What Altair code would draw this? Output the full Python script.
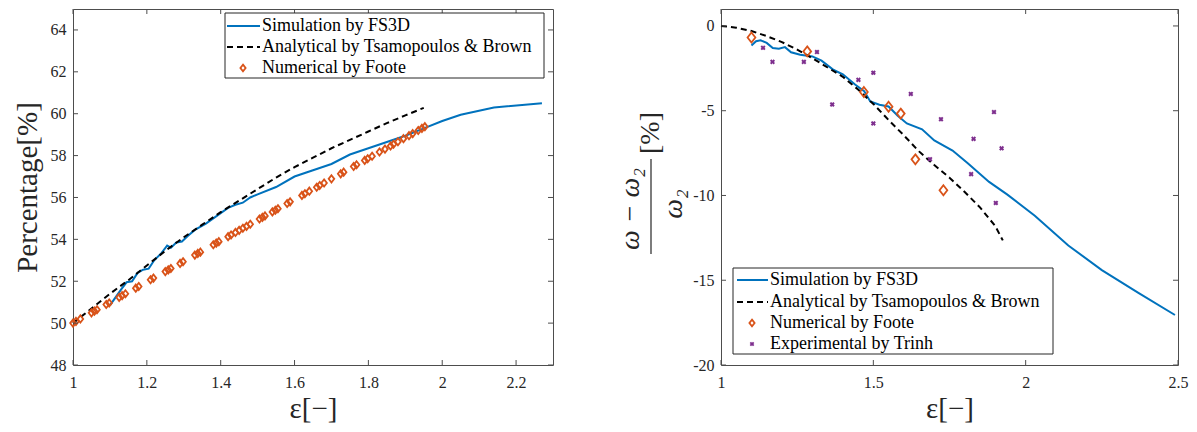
import altair as alt
import pandas as pd

# ---------------- left panel data ----------------
sim_left_x = [1.10, 1.11, 1.13, 1.145, 1.16, 1.175, 1.19, 1.205, 1.22, 1.24, 1.255, 1.265, 1.28, 1.295,
              1.31, 1.33, 1.36, 1.38, 1.40, 1.42, 1.44, 1.46, 1.48, 1.50, 1.55, 1.60, 1.65, 1.70, 1.75,
              1.80, 1.85, 1.90, 1.95, 2.00, 2.05, 2.14, 2.27]
sim_left_y = [50.85, 51.1, 51.6, 51.95, 52.0, 52.4, 52.55, 52.6, 53.0, 53.35, 53.7, 53.6, 53.85, 53.9,
              54.15, 54.45, 54.75, 55.0, 55.25, 55.5, 55.65, 55.75, 56.0, 56.15, 56.5, 57.0, 57.3, 57.6,
              58.05, 58.35, 58.65, 58.95, 59.3, 59.65, 59.95, 60.3, 60.5]

ana_left_x = [1.00, 1.05, 1.10, 1.15, 1.20, 1.25, 1.30, 1.35, 1.40, 1.45, 1.50, 1.55, 1.60, 1.65,
              1.70, 1.75, 1.80, 1.85, 1.90, 1.95]
ana_left_y = [50.0, 50.7, 51.4, 52.05, 52.75, 53.45, 54.1, 54.7, 55.3, 55.85, 56.4, 56.95, 57.45,
              57.9, 58.35, 58.75, 59.15, 59.55, 59.92, 60.28]

foote_left_x = [1.000, 1.008, 1.020, 1.050, 1.058, 1.065, 1.090, 1.098, 1.125, 1.133, 1.142, 1.170,
                1.178, 1.210, 1.218, 1.250, 1.258, 1.265, 1.290, 1.298, 1.330, 1.338, 1.345, 1.380,
                1.388, 1.395, 1.420, 1.428, 1.440, 1.450, 1.460, 1.470, 1.480, 1.505, 1.513, 1.520,
                1.540, 1.548, 1.555, 1.580, 1.588, 1.620, 1.628, 1.640, 1.660, 1.668, 1.680, 1.700,
                1.725, 1.733, 1.760, 1.768, 1.790, 1.798, 1.810, 1.830, 1.845, 1.860, 1.868, 1.880,
                1.895, 1.910, 1.920, 1.935, 1.945, 1.953]
foote_left_y = [50.00, 50.08, 50.20, 50.49, 50.57, 50.64, 50.89, 50.96, 51.23, 51.31, 51.40, 51.67,
                51.75, 52.07, 52.15, 52.46, 52.54, 52.61, 52.85, 52.93, 53.25, 53.33, 53.39, 53.74,
                53.82, 53.89, 54.13, 54.21, 54.33, 54.43, 54.53, 54.62, 54.72, 54.97, 55.05, 55.12,
                55.31, 55.39, 55.46, 55.71, 55.79, 56.10, 56.18, 56.30, 56.49, 56.57, 56.69, 56.89,
                57.13, 57.21, 57.48, 57.56, 57.77, 57.85, 57.97, 58.17, 58.31, 58.46, 58.54, 58.66,
                58.81, 58.95, 59.05, 59.20, 59.30, 59.38]

xticks_left = [1, 1.2, 1.4, 1.6, 1.8, 2, 2.2]
yticks_left = [48, 50, 52, 54, 56, 58, 60, 62, 64]

# ---------------- right panel data ----------------
sim_right_x = [1.10, 1.115, 1.13, 1.15, 1.17, 1.19, 1.21, 1.23, 1.26, 1.30, 1.33, 1.37, 1.40, 1.44,
               1.47, 1.49, 1.52, 1.55, 1.58, 1.61, 1.66, 1.70, 1.76, 1.81, 1.88, 1.94, 2.03, 2.14,
               2.25, 2.37, 2.49]
sim_right_y = [-1.15, -0.9, -0.85, -1.0, -1.3, -1.35, -1.25, -1.55, -1.7, -1.8, -2.05, -2.6, -2.85,
               -3.45, -3.85, -4.45, -4.65, -4.75, -5.3, -5.75, -6.1, -6.75, -7.35, -8.1, -9.2, -9.95,
               -11.2, -12.95, -14.4, -15.75, -17.05]

ana_right_x = [1.00, 1.05, 1.10, 1.15, 1.20, 1.25, 1.30, 1.35, 1.40, 1.45, 1.50, 1.55, 1.60, 1.65,
               1.70, 1.75, 1.80, 1.85, 1.90, 1.925]
ana_right_y = [0.0, -0.1, -0.3, -0.6, -0.95, -1.4, -1.9, -2.45, -3.0, -3.75, -4.6, -5.55, -6.45,
               -7.4, -8.2, -8.95, -9.8, -10.7, -11.8, -12.65]

foote_right_x = [1.10, 1.283, 1.469, 1.55, 1.59, 1.638, 1.73]
foote_right_y = [-0.68, -1.5, -3.9, -4.77, -5.17, -7.87, -9.69]

trinh_x = [1.138, 1.169, 1.272, 1.315, 1.365, 1.451, 1.50, 1.50, 1.623, 1.686, 1.722, 1.829, 1.821,
           1.896, 1.921, 1.902]
trinh_y = [-1.29, -2.12, -2.12, -1.54, -4.63, -3.18, -2.76, -5.75, -4.01, -7.86, -5.5, -6.66, -8.74,
           -5.08, -7.22, -10.44]

xticks_right = [1, 1.5, 2, 2.5]
yticks_right = [-20, -15, -10, -5, 0]

legend_labels = ["Simulation by FS3D", "Analytical by Tsamopoulos & Brown",
                 "Numerical by Foote", "Experimental by Trinh"]

# ---------------- styling ----------------
FONT = "Liberation Serif"
BLUE = "#0072BD"
ORANGE = "#D95319"
PURPLE = "#7E2F8E"
TXT = "#262626"
FRAME = "#4d4d4d"
DIAMOND = "M0,-1L0.78,0L0,1L-0.78,0Z"

W1, W2, H = 480, 457, 356
TICK = 5

one = pd.DataFrame({"k": [0]})


def xy(xs, ys):
    return pd.DataFrame({"x": xs, "y": ys})


def x_axis(vals):
    return alt.Axis(values=vals, labelExpr="datum.value + ''", domain=False, ticks=False, grid=False,
                    labelFlush=False, labelFont=FONT, labelFontSize=16, labelColor=TXT, labelPadding=9,
                    title="ε[−]", titleFont=FONT, titleFontSize=29, titleFontWeight="normal",
                    titleColor=TXT, titlePadding=4)


def y_axis(vals, title):
    kw = dict(values=vals, labelExpr="datum.value + ''", domain=False, ticks=False, grid=False,
              labelFlush=False, labelFont=FONT, labelFontSize=16, labelColor=TXT, labelPadding=7)
    if title:
        kw.update(title=title, titleFont=FONT, titleFontSize=29, titleFontWeight="normal",
                  titleColor=TXT, titlePadding=8)
    else:
        kw.update(title=None)
    return alt.Axis(**kw)


def tick_layers(xs_ticks, ys_ticks, xs, ys, W):
    tx = pd.DataFrame({"x": xs_ticks})
    ty = pd.DataFrame({"y": ys_ticks})
    base_x = alt.Chart(tx).mark_rule(color=FRAME, strokeWidth=1)
    base_y = alt.Chart(ty).mark_rule(color=FRAME, strokeWidth=1)
    return [
        base_x.encode(x=alt.X("x:Q", scale=xs), y=alt.value(H), y2=alt.value(H - TICK)),
        base_x.encode(x=alt.X("x:Q", scale=xs), y=alt.value(0), y2=alt.value(TICK)),
        base_y.encode(y=alt.Y("y:Q", scale=ys), x=alt.value(0), x2=alt.value(TICK)),
        base_y.encode(y=alt.Y("y:Q", scale=ys), x=alt.value(W), x2=alt.value(W - TICK)),
    ]


def legend_layers(box, rows, line_x, mark_x, text_x, n):
    layers = [alt.Chart(one).mark_rect(fill="white", stroke=TXT, strokeWidth=1).encode(
        x=alt.value(box[0]), x2=alt.value(box[1]), y=alt.value(box[2]), y2=alt.value(box[3]))]
    layers.append(alt.Chart(one).mark_rule(color=BLUE, strokeWidth=2).encode(
        x=alt.value(line_x[0]), x2=alt.value(line_x[1]), y=alt.value(rows[0])))
    layers.append(alt.Chart(one).mark_rule(color="black", strokeWidth=2, strokeDash=[6, 4]).encode(
        x=alt.value(line_x[0]), x2=alt.value(line_x[1]), y=alt.value(rows[1])))
    layers.append(alt.Chart(one).mark_point(shape=DIAMOND, color=ORANGE, filled=False, strokeWidth=1.8,
                                            size=45, opacity=1).encode(
        x=alt.value(mark_x), y=alt.value(rows[2])))
    if n == 4:
        layers.append(alt.Chart(one).mark_point(shape="cross", angle=45, color=PURPLE, filled=True,
                                                size=22, opacity=1).encode(
            x=alt.value(mark_x), y=alt.value(rows[3])))
    for i in range(n):
        layers.append(alt.Chart(one).mark_text(align="left", baseline="middle", font=FONT, fontSize=18,
                                               color="black").encode(
            x=alt.value(text_x), y=alt.value(rows[i]), text=alt.value(legend_labels[i])))
    return layers


# ---------------- left chart ----------------
xl = alt.Scale(domain=[1, 2.3], nice=False, zero=False)
yl = alt.Scale(domain=[48, 65], nice=False, zero=False)

sim_l = alt.Chart(xy(sim_left_x, sim_left_y)).mark_line(color=BLUE, strokeWidth=2).encode(
    x=alt.X("x:Q", scale=xl, axis=x_axis(xticks_left)),
    y=alt.Y("y:Q", scale=yl, axis=y_axis(yticks_left, "Percentage[%]")))
ana_l = alt.Chart(xy(ana_left_x, ana_left_y)).mark_line(color="black", strokeWidth=2,
                                                        strokeDash=[6, 4]).encode(
    x=alt.X("x:Q", scale=xl), y=alt.Y("y:Q", scale=yl))
foote_l = alt.Chart(xy(foote_left_x, foote_left_y)).mark_point(
    shape=DIAMOND, color=ORANGE, filled=False, strokeWidth=1.8, size=52, opacity=1).encode(
    x=alt.X("x:Q", scale=xl), y=alt.Y("y:Q", scale=yl))

left = alt.layer(
    sim_l, ana_l, foote_l,
    *tick_layers(xticks_left, yticks_left, xl, yl, W1),
    *legend_layers((152, 471, 4, 69), (17, 38, 59), (154, 187), 170, 189, 3),
).properties(width=W1, height=H)

# ---------------- right chart ----------------
xr = alt.Scale(domain=[1, 2.5], nice=False, zero=False)
yr = alt.Scale(domain=[-20, 1], nice=False, zero=False)

sim_r = alt.Chart(xy(sim_right_x, sim_right_y)).mark_line(color=BLUE, strokeWidth=2).encode(
    x=alt.X("x:Q", scale=xr, axis=x_axis(xticks_right)),
    y=alt.Y("y:Q", scale=yr, axis=y_axis(yticks_right, None)))
ana_r = alt.Chart(xy(ana_right_x, ana_right_y)).mark_line(color="black", strokeWidth=2,
                                                          strokeDash=[6, 4]).encode(
    x=alt.X("x:Q", scale=xr), y=alt.Y("y:Q", scale=yr))
foote_r = alt.Chart(xy(foote_right_x, foote_right_y)).mark_point(
    shape=DIAMOND, color=ORANGE, filled=False, strokeWidth=1.8, size=100, opacity=1).encode(
    x=alt.X("x:Q", scale=xr), y=alt.Y("y:Q", scale=yr))
trinh_r = alt.Chart(xy(trinh_x, trinh_y)).mark_point(
    shape="cross", angle=45, color=PURPLE, filled=True, size=26, opacity=1).encode(
    x=alt.X("x:Q", scale=xr), y=alt.Y("y:Q", scale=yr))

# y-axis title drawn as a fraction: (ω − ω₂) / ω₂ [%]
ytitle = [
    alt.Chart(one).mark_text(angle=270, align="center", baseline="middle", font=FONT, fontSize=28,
                             fontStyle="italic", color=TXT).encode(
        x=alt.value(-90), y=alt.value(200), text=alt.value("ω − ω₂")),
    alt.Chart(one).mark_rule(color=TXT, strokeWidth=1.2).encode(
        x=alt.value(-70), y=alt.value(150), y2=alt.value(245)),
    alt.Chart(one).mark_text(angle=270, align="center", baseline="middle", font=FONT, fontSize=28,
                             fontStyle="italic", color=TXT).encode(
        x=alt.value(-47), y=alt.value(195), text=alt.value("ω₂")),
    alt.Chart(one).mark_text(angle=270, align="center", baseline="middle", font=FONT, fontSize=28,
                             color=TXT).encode(
        x=alt.value(-70), y=alt.value(124), text=alt.value("[%]")),
]

right = alt.layer(
    sim_r, ana_r, foote_r, trinh_r,
    *tick_layers(xticks_right, yticks_right, xr, yr, W2),
    *legend_layers((12, 332, 259, 345), (271, 293, 314, 335), (16, 47), 31, 49, 4),
    *ytitle,
).properties(width=W2, height=H)

chart = alt.hconcat(left, right, spacing=168, bounds="flush").properties(
    padding={"left": 4, "top": 0, "right": 0, "bottom": 0},
    background="white",
).configure_view(stroke=FRAME, strokeWidth=1)

chart.save("out.html", embed_options={"renderer": "svg", "actions": False})
